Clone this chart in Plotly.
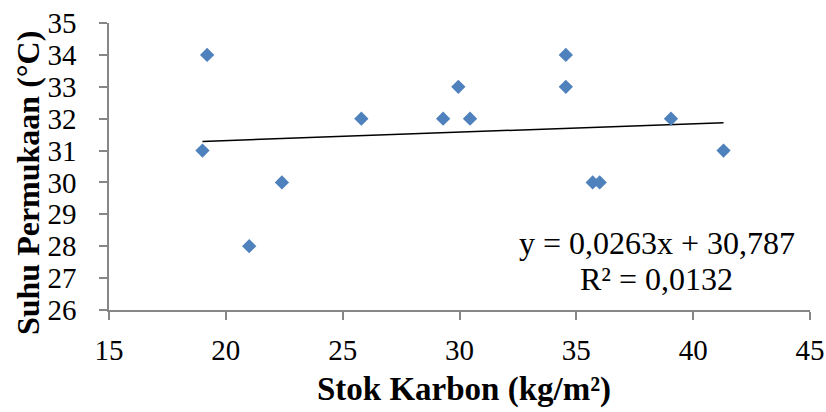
import numpy as np
import plotly.graph_objects as go

# Data
stok_karbon = [19.2, 19.0, 21.0, 22.4, 25.8, 29.3, 29.95, 30.45, 34.55, 34.55, 35.7, 36.0, 39.05, 41.3]
suhu = [34, 31, 28, 30, 32, 32, 33, 32, 34, 33, 30, 30, 32, 31]

slope = 0.0263
intercept = 30.787
eq_line1 = "y = 0,0263x + 30,787"
eq_line2 = "R² = 0,0132"

x_title = "Stok Karbon (kg/m²)"
y_title = "Suhu Permukaan (°C)"

trend_x = [min(stok_karbon), max(stok_karbon)]
trend_y = [slope * v + intercept for v in trend_x]

FONT = "Liberation Serif, Times New Roman, serif"
AXC = "#868686"

fig = go.Figure()
fig.add_trace(go.Scatter(x=trend_x, y=trend_y, mode="lines",
                         line=dict(color="black", width=1.5), showlegend=False))
fig.add_trace(go.Scatter(x=stok_karbon, y=suhu, mode="markers",
                         marker=dict(symbol="diamond", size=11, color="#4F81BD",
                                     line=dict(width=0)), showlegend=False))

fig.update_layout(
    width=826, height=412,
    margin=dict(l=109, r=16, t=23, b=102),
    plot_bgcolor="white", paper_bgcolor="white",
    font=dict(family=FONT, size=29, color="black"),
    xaxis=dict(range=[15, 45], dtick=5, tick0=15, showgrid=False, zeroline=False,
               automargin=False, ticklabeloverflow="allow",
               showline=True, linecolor=AXC, linewidth=1.5,
               ticks="outside", ticklen=8, tickcolor=AXC, tickwidth=1.5,
               ticklabelstandoff=5,
               tickfont=dict(family=FONT, size=29)),
    yaxis=dict(range=[26, 35], dtick=1, tick0=26, showgrid=False, zeroline=False,
               automargin=False, ticklabeloverflow="allow",
               showline=True, linecolor=AXC, linewidth=1.5,
               ticks="outside", ticklen=8, tickcolor=AXC, tickwidth=1.5,
               ticksuffix="\u00a0\u00a0\u200a",
               tickfont=dict(family=FONT, size=29)),
    annotations=[
        dict(text=eq_line1, xref="paper", yref="paper", x=0.7817, y=0.2334,
             xanchor="center", yanchor="middle", showarrow=False,
             font=dict(family=FONT, size=32, color="black")),
        dict(text=eq_line2, xref="paper", yref="paper", x=0.7817, y=0.108,
             xanchor="center", yanchor="middle", showarrow=False,
             font=dict(family=FONT, size=32, color="black")),
        dict(text="<b>" + x_title + "</b>", xref="paper", yref="paper",
             x=0.5064, y=-0.2787, xanchor="center", yanchor="middle",
             showarrow=False, font=dict(family=FONT, size=33, color="black")),
        dict(text="<b>" + y_title + "</b>", xref="paper", yref="paper",
             x=-0.1155, y=0.4425, xanchor="center", yanchor="middle",
             textangle=-90, showarrow=False,
             font=dict(family=FONT, size=32, color="black")),
    ],
)

fig.write_html("out.html", config={"displayModeBar": False},
               post_script="document.body.style.margin='0';document.body.style.overflow='hidden';")
